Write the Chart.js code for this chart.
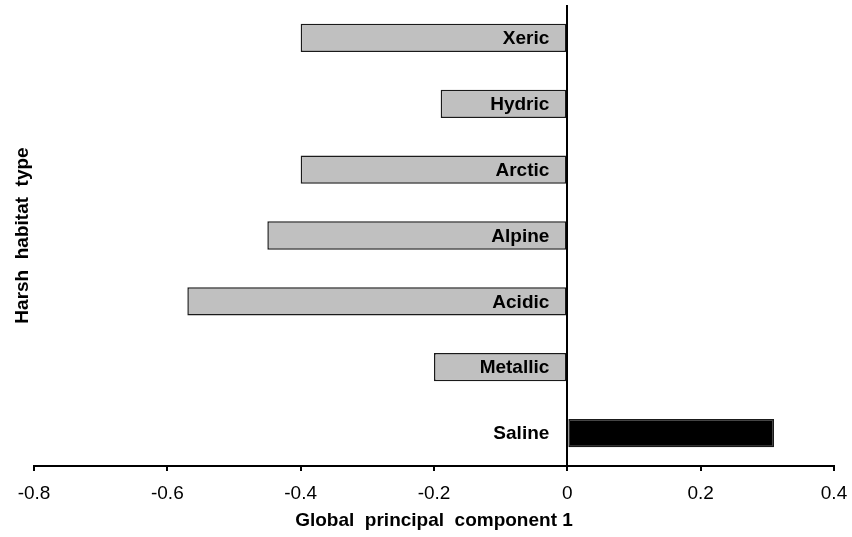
<!DOCTYPE html>
<html>
<head>
<meta charset="utf-8">
<script src="https://cdn.jsdelivr.net/npm/chart.js@4"></script>
<style>
  html, body { margin: 0; padding: 0; background: #fff; }
  #wrap { width: 852px; height: 537px; }
</style>
</head>
<body>
<div id="wrap"><canvas id="chart" width="852" height="537"></canvas></div>
<script>
// Habitat categories and their scores on the first global principal component
const habitats = ['Xeric', 'Hydric', 'Arctic', 'Alpine', 'Acidic', 'Metallic', 'Saline'];
const pc1Scores = [-0.40, -0.19, -0.40, -0.45, -0.57, -0.20, 0.31];
const barColors = ['#c0c0c0', '#c0c0c0', '#c0c0c0', '#c0c0c0', '#c0c0c0', '#c0c0c0', '#000000'];
const xTickValues = [-0.8, -0.6, -0.4, -0.2, 0, 0.2, 0.4];

const FONT = '"Liberation Sans", Arial, Helvetica, sans-serif';

// Category names written just left of the zero line, on top of the bars
const zeroLineLabels = {
  id: 'zeroLineLabels',
  afterDatasetsDraw(chart) {
    const { ctx, scales: { x, y } } = chart;
    const x0 = x.getPixelForValue(0);
    ctx.save();
    ctx.font = 'bold 19px ' + FONT;
    ctx.fillStyle = '#000';
    ctx.textAlign = 'right';
    ctx.textBaseline = 'middle';
    habitats.forEach((name, i) => {
      ctx.fillText(name, x0 - 18, y.getPixelForValue(i) + 1);
    });
    ctx.restore();
  }
};

new Chart(document.getElementById('chart'), {
  type: 'bar',
  data: {
    labels: habitats,
    datasets: [{
      data: pc1Scores,
      backgroundColor: barColors,
      borderColor: '#1a1a1a',
      borderWidth: 1.5,
      borderSkipped: false,
      categoryPercentage: 1,
      barPercentage: 0.43
    }]
  },
  options: {
    indexAxis: 'y',
    responsive: false,
    animation: false,
    events: [],
    layout: { padding: { top: 5, right: 18, bottom: 0, left: 0 } },
    plugins: { legend: { display: false }, tooltip: { enabled: false } },
    scales: {
      x: {
        type: 'linear',
        min: -0.8,
        max: 0.4,
        afterBuildTicks: (scale) => { scale.ticks = xTickValues.map(v => ({ value: v })); },
        // fixed axis band; side padding is left to the layout
        afterFit: (scale) => {
          scale.height = 71;
          scale.paddingLeft = 0;
          scale.paddingRight = 0;
        },
        grid: {
          display: true,
          drawOnChartArea: true,
          drawTicks: true,
          tickLength: 5,
          color: (c) => (c.tick && c.tick.value === 0 ? '#000' : 'rgba(0,0,0,0)'),
          tickColor: '#000',
          lineWidth: 2
        },
        border: { display: true, color: '#000', width: 2 },
        ticks: {
          color: '#000',
          font: { family: FONT, size: 19 },
          padding: 11,
          maxRotation: 0,
          callback: (v) => (Math.round(v * 10) / 10).toString()
        },
        title: {
          display: true,
          text: 'Global  principal  component 1',
          color: '#000',
          font: { family: FONT, size: 19, weight: 'bold' },
          padding: { top: 0, bottom: 5 }
        }
      },
      y: {
        type: 'category',
        display: false
      },
      yTitle: {
        type: 'category',
        position: 'left',
        labels: habitats,
        grid: { display: false, drawTicks: false },
        border: { display: false },
        ticks: { display: false },
        title: {
          display: true,
          text: 'Harsh  habitat  type',
          color: '#000',
          font: { family: FONT, size: 19, weight: 'bold' },
          padding: { top: 11, bottom: 4 }
        },
        afterFit: (scale) => { scale.width = 34; }
      }
    }
  },
  plugins: [zeroLineLabels]
});
</script>
</body>
</html>
